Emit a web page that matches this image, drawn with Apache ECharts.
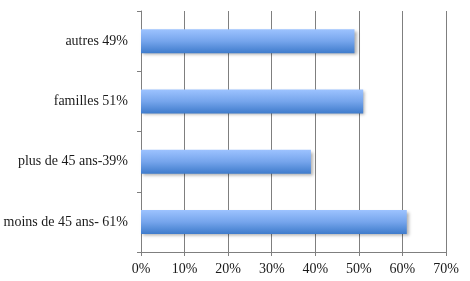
<!DOCTYPE html>
<html>
<head>
<meta charset="utf-8">
<script src="https://cdn.jsdelivr.net/npm/echarts@6/dist/echarts.min.js"></script>
<style>html,body{margin:0;padding:0;background:#fff;}#c{width:470px;height:281px;}</style>
</head>
<body>
<div id="c"></div>
<script>
var categories = ["moins de 45 ans- 61%", "plus de 45 ans-39%", "familles 51%", "autres 49%"];
var values = [61, 39, 51, 49];
var xTicks = [0, 10, 20, 30, 40, 50, 60, 70];

var chart = echarts.init(document.getElementById('c'), null, {renderer: 'canvas'});
var gray = '#7f7f7f';
chart.setOption({
  animation: false,
  backgroundColor: '#ffffff',
  textStyle: {fontFamily: 'Liberation Serif'},
  grid: {left: 141, right: 24, top: 11, bottom: 29, containLabel: false},
  xAxis: {
    type: 'value',
    min: xTicks[0], max: xTicks[xTicks.length - 1], interval: 10,
    axisLine: {show: true, lineStyle: {color: gray, width: 1}},
    axisTick: {show: true, length: 4, lineStyle: {color: gray}},
    splitLine: {show: true, lineStyle: {color: gray, width: 1}},
    axisLabel: {formatter: '{value}%', color: '#1a1a1a', fontSize: 14, margin: 10, fontFamily: 'Liberation Serif'}
  },
  yAxis: {
    type: 'category',
    data: categories,
    axisLine: {show: true, lineStyle: {color: gray, width: 1}},
    axisTick: {show: true, length: 4, alignWithLabel: false, lineStyle: {color: gray}},
    axisLabel: {color: '#1a1a1a', fontSize: 14, margin: 13, fontFamily: 'Liberation Serif'},
    splitLine: {show: false}
  },
  series: [{
    type: 'bar',
    data: values,
    barWidth: 24,
    itemStyle: {
      color: new echarts.graphic.LinearGradient(0, 0, 0, 1, [
        {offset: 0, color: '#9dc3ff'},
        {offset: 0.5, color: '#76a5ec'},
        {offset: 1, color: '#3f7ccc'}
      ]),
      shadowColor: 'rgba(0,0,0,0.3)',
      shadowBlur: 3,
      shadowOffsetX: 2,
      shadowOffsetY: 2
    }
  }]
});
</script>
</body>
</html>
